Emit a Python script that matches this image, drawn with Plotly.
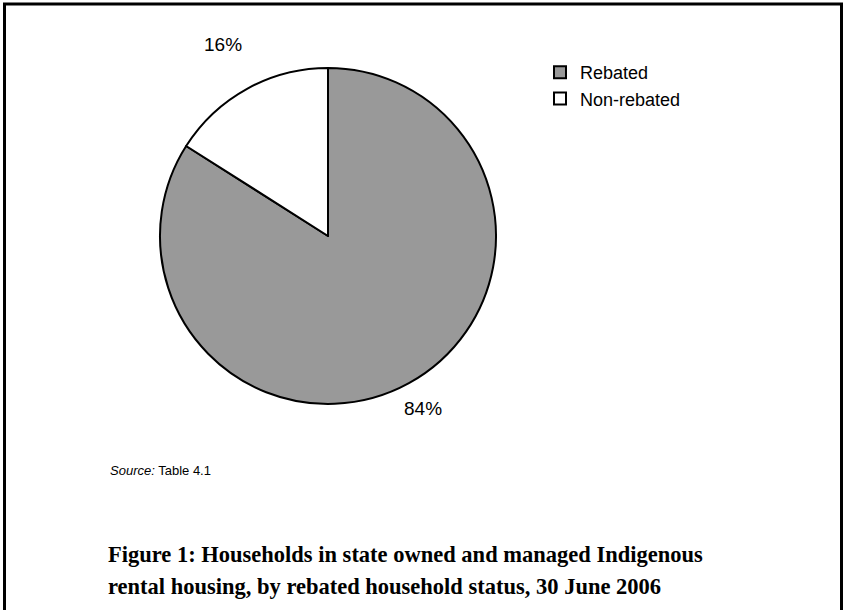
import math
import plotly.graph_objects as go

labels = ["Rebated", "Non-rebated"]
values = [84, 16]
colors = ["#999999", "#ffffff"]
label_radius = [1.17, 1.30]  # relative distance of % labels from the pie centre

W, H = 843, 610
cx, cy, R = 328, 236, 168  # pie centre and radius in px

fig = go.Figure()
fig.add_trace(go.Pie(
    labels=labels, values=values, sort=False, direction="clockwise", rotation=0,
    marker=dict(colors=colors, line=dict(color="#000000", width=2)),
    textinfo="none",
    domain=dict(x=[(cx - R) / W, (cx + R) / W], y=[1 - (cy + R) / H, 1 - (cy - R) / H]),
    showlegend=True,
))

annotations = []
total = sum(values)
start = 0.0
for v, rf in zip(values, label_radius):
    mid = (start + v / 2) / total * 2 * math.pi  # clockwise from 12 o'clock
    start += v
    px = cx + rf * R * math.sin(mid)
    py = cy - rf * R * math.cos(mid)
    annotations.append(dict(
        text=f"{round(v / total * 100)}%", x=px / W, y=1 - py / H, xref="paper", yref="paper",
        xanchor="center", yanchor="middle", showarrow=False,
        font=dict(size=19, family="Liberation Sans, Arial", color="#000000")))

annotations += [
    dict(text="<i>Source:</i> Table 4.1", x=108 / W, y=1 - 470 / H, xref="paper", yref="paper",
         xanchor="left", yanchor="middle", showarrow=False,
         font=dict(size=13, family="Liberation Sans, Arial", color="#000000")),
    dict(text="<b>Figure 1: Households in state owned and managed Indigenous</b>",
         x=106 / W, y=1 - 554 / H, xref="paper", yref="paper",
         xanchor="left", yanchor="middle", align="left", showarrow=False,
         font=dict(size=22.5, family="Liberation Serif, Times New Roman", color="#000000")),
    dict(text="<b>rental housing, by rebated household status, 30 June 2006</b>",
         x=106 / W, y=1 - 586 / H, xref="paper", yref="paper",
         xanchor="left", yanchor="middle", align="left", showarrow=False,
         font=dict(size=22.5, family="Liberation Serif, Times New Roman", color="#000000")),
]

fig.update_layout(
    width=W, height=H,
    margin=dict(l=0, r=0, t=0, b=0),
    paper_bgcolor="#ffffff", plot_bgcolor="#ffffff",
    font=dict(family="Liberation Sans, Arial", color="#000000"),
    legend=dict(x=540 / W, y=1 - 54 / H, xanchor="left", yanchor="top",
                font=dict(size=18, family="Liberation Sans, Arial", color="#000000"),
                itemwidth=30, tracegroupgap=0, bgcolor="rgba(0,0,0,0)"),
    shapes=[dict(type="rect", xref="paper", yref="paper",
                 x0=4.5 / W, x1=1 - 1.5 / W, y0=-0.02, y1=1 - 4 / H,
                 line=dict(color="#000000", width=3))],
    annotations=annotations,
)

fig.write_html("out.html")
